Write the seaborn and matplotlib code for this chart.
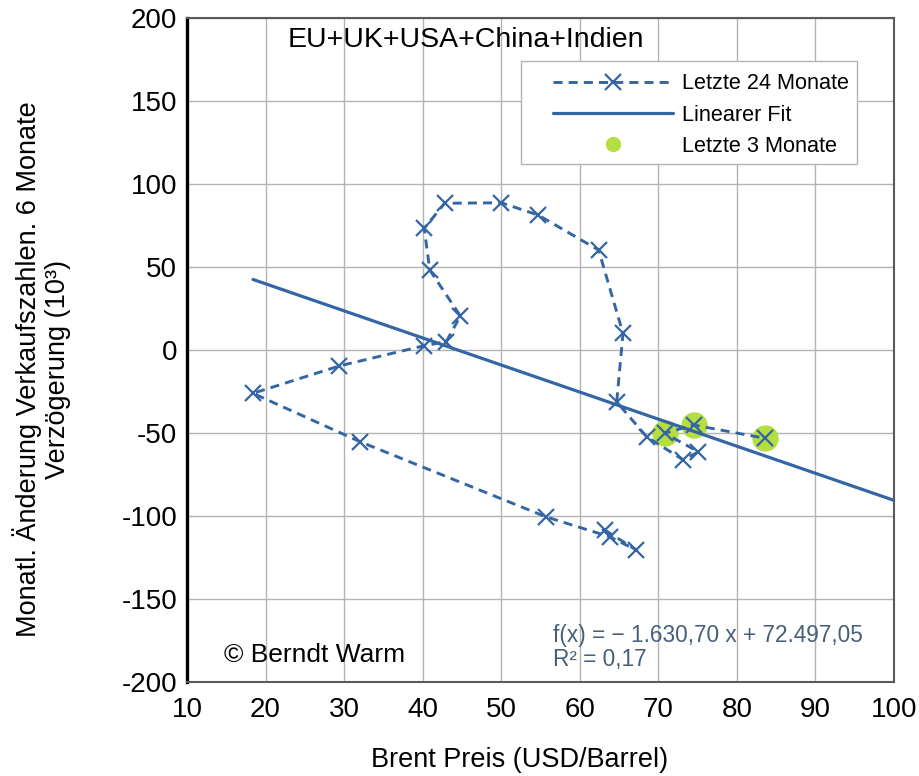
import numpy as np
import matplotlib.pyplot as plt
from matplotlib.lines import Line2D
from matplotlib.patches import Rectangle
import seaborn as sns

# Brent price (USD/barrel) vs. monthly change of sales, 6 months lag (10^3)
brent = [63.2, 67.2, 63.8, 55.7, 32.0, 18.4, 29.4, 40.2, 43.0, 44.8, 40.9, 40.2,
         42.8, 50.0, 54.7, 62.4, 65.5, 64.7, 68.5, 73.2, 75.1, 70.8, 74.5, 83.6]
sales = [-108.5, -120.5, -112.5, -100.5, -55.2, -26.1, -9.6, 2.6, 5.0, 20.5, 48.2, 73.3,
         88.4, 88.7, 81.3, 60.2, 10.0, -31.3, -52.2, -66.3, -61.3, -50.2, -45.2, -53.2]

# trend line as given in the chart: f(x) = -1630.70 x + 72497.05 (in 10^3)
fit_slope = -1.63070
fit_icept = 72.49705
fit_x = [min(brent), 100]

xticks = list(range(10, 101, 10))
yticks = list(range(-200, 201, 50))

blue = '#3465a4'
green = '#b5df3f'

sns.set_style('white')
plt.rcParams['font.family'] = ['Liberation Sans', 'DejaVu Sans']
plt.rcParams['axes.unicode_minus'] = False
for k in ['text.color', 'axes.labelcolor', 'xtick.color', 'ytick.color']:
    plt.rcParams[k] = 'black'

fig = plt.figure(figsize=(9.19, 7.76), dpi=100)
ax = fig.add_axes([187 / 919, 94 / 776, 707 / 919, 664 / 776])

ax.grid(True, color='#b3b3b3', lw=1.0)
ax.set_axisbelow(True)

# last 3 months highlighted
sns.scatterplot(x=brent[-3:], y=sales[-3:], ax=ax, color=green, s=360,
                linewidth=0, zorder=2)

fit_y = [fit_slope * v + fit_icept for v in fit_x]
sns.lineplot(x=fit_x, y=fit_y, ax=ax, color=blue, lw=2.3, zorder=3)

sns.lineplot(x=brent, y=sales, ax=ax, sort=False, estimator=None, color=blue,
             lw=2.1, marker='x', markersize=11, markeredgewidth=1.6,
             markeredgecolor=blue, zorder=4)
ax.lines[-1].set_dashes((3.1, 2.1))

ax.set_xlim(10, 100)
ax.set_ylim(-200, 200)
ax.set_xticks(xticks)
ax.set_yticks(yticks)
ax.tick_params(axis='y', direction='in', length=7, width=2.2, color='black',
               labelsize=20, pad=7)
ax.tick_params(axis='x', length=0, labelsize=20, pad=11)

for side in ['top', 'right', 'bottom']:
    ax.spines[side].set_color('#5a5a5a')
    ax.spines[side].set_linewidth(1.5)
ax.spines['left'].set_color('black')
ax.spines['left'].set_linewidth(2.4)

ax.set_xlabel('Brent Preis (USD/Barrel)', fontsize=19.5)
ax.xaxis.set_label_coords(0.47, -0.098)
ax.set_ylabel('Monatl. Änderung Verkaufszahlen. 6 Monate\nVerzögerung (10³)',
              fontsize=19.5, va='center', linespacing=1.15)
ax.yaxis.set_label_coords(-0.206, 0.471)

ax.text(0.395, 0.967, 'EU+UK+USA+China+Indien', transform=ax.transAxes,
        fontsize=20.5, ha='center', va='center')
ax.text(0.052, 0.041, '© Berndt Warm', transform=ax.transAxes,
        fontsize=19, ha='left', va='center')
ax.text(0.518, 0.052, 'f(x) = − 1.630,70 x + 72.497,05\nR² = 0,17',
        transform=ax.transAxes, fontsize=16.3, ha='left', va='center',
        color='#46607a', linespacing=1.08)

# legend box drawn separately (asymmetric padding as in the original)
ax.add_patch(Rectangle((0.472, 0.780), 0.476, 0.155, transform=ax.transAxes,
                       facecolor='white', edgecolor='#b3b3b3', lw=1.0, zorder=5))
handles = [
    Line2D([], [], color=blue, lw=2.1, dashes=(3.1, 2.1), marker='x',
           markersize=11, markeredgewidth=1.6),
    Line2D([], [], color=blue, lw=2.3),
    Line2D([], [], color=green, lw=0, marker='o', markersize=10),
]
labels = ['Letzte 24 Monate', 'Linearer Fit', 'Letzte 3 Monate']
leg = ax.legend(handles, labels, loc='upper left', bbox_to_anchor=(0.5177, 0.9165),
                fontsize=15.6, frameon=False, handlelength=5.55, handletextpad=0.42,
                borderpad=0, labelspacing=0.47, numpoints=1, borderaxespad=0)
leg.set_zorder(6)

fig.savefig('out.png', dpi=100)
